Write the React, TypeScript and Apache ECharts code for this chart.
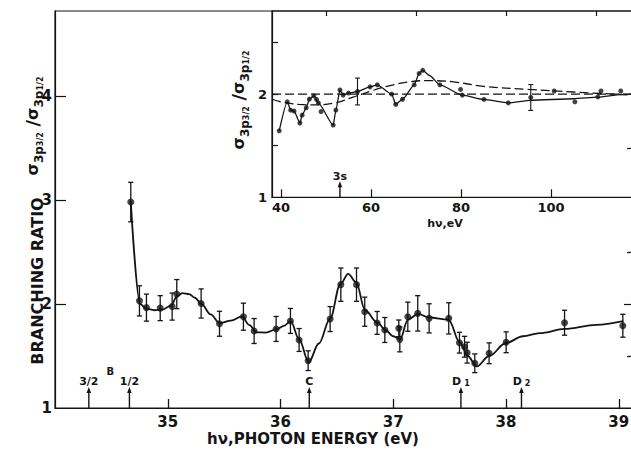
import React, { useEffect, useRef } from "react";
import * as echarts from "echarts";

const INK = "#141414";
const FONT = '"DejaVu Sans", "Liberation Sans", sans-serif';

// Near-threshold region: photon energy (eV), branching ratio and error
const photonEnergy = [34.672, 34.749, 34.811, 34.933, 35.039, 35.08, 35.296, 35.459, 35.671, 35.766, 35.961, 36.088, 36.165, 36.245, 36.44, 36.535, 36.674, 36.747, 36.857, 36.925, 37.049, 37.058, 37.129, 37.217, 37.318, 37.492, 37.587, 37.632, 37.655, 37.723, 37.85, 38.001, 38.519, 39.036];
const branchingRatio = [2.98, 2.03, 1.965, 1.96, 1.975, 2.095, 2.005, 1.81, 1.878, 1.74, 1.76, 1.837, 1.654, 1.455, 1.855, 2.186, 2.186, 1.926, 1.818, 1.75, 1.766, 1.66, 1.878, 1.91, 1.862, 1.862, 1.628, 1.589, 1.532, 1.43, 1.526, 1.632, 1.82, 1.791];
const ratioError = [0.19, 0.145, 0.13, 0.12, 0.13, 0.14, 0.14, 0.12, 0.13, 0.12, 0.12, 0.12, 0.11, 0.095, 0.12, 0.16, 0.16, 0.14, 0.11, 0.12, 0.08, 0.12, 0.14, 0.17, 0.14, 0.15, 0.1, 0.1, 0.1, 0.09, 0.1, 0.1, 0.12, 0.11];

// Hand-drawn guide curve through the near-threshold data
const guideEnergy = [34.672, 34.755, 34.81, 34.88, 34.95, 35.03, 35.08, 35.13, 35.19, 35.24, 35.3, 35.38, 35.46, 35.56, 35.66, 35.72, 35.79, 35.87, 35.96, 36.03, 36.09, 36.165, 36.25, 36.34, 36.44, 36.53, 36.6, 36.67, 36.75, 36.86, 36.93, 37.0, 37.06, 37.13, 37.22, 37.32, 37.49, 37.59, 37.66, 37.74, 37.85, 38.0, 38.15, 38.3, 38.52, 38.8, 39.04];
const guideRatio = [2.98, 2.0, 1.955, 1.94, 1.945, 1.985, 2.07, 2.105, 2.095, 2.06, 2.0, 1.9, 1.815, 1.84, 1.88, 1.8, 1.728, 1.725, 1.755, 1.79, 1.835, 1.66, 1.44, 1.62, 1.86, 2.19, 2.29, 2.21, 1.94, 1.82, 1.75, 1.69, 1.66, 1.85, 1.905, 1.87, 1.85, 1.63, 1.5, 1.4, 1.5, 1.625, 1.69, 1.72, 1.76, 1.8, 1.835];

// Thresholds marked on the energy axis
const edgeEnergy = [34.3, 34.66, 36.255, 37.6, 38.137];
const edgeLabel = ["3/2", "1/2", "C", "D{s|1}", "D{s|2}"];
const groupEnergy = [34.49];
const groupLabel = ["B"];
const groupLevel = [1.35];

const energyTicks = [35, 36, 37, 38, 39];
const ratioLabels = [1, 2, 3, 4];
const ratioMajorTicks = [2, 3, 4];
const ratioMinorTicks = [1.5, 2.5, 3.5];

// Wide-range panel: hν (eV) and ratio
const wideEnergy = [39.6, 41.4, 42.15, 42.9, 44.2, 44.7, 45.6, 46.3, 47.3, 47.9, 48.3, 48.9, 51.6, 52.2, 53.1, 53.8, 55.0, 57.0, 59.8, 61.4, 64.6, 65.5, 67.0, 69.6, 70.7, 71.5, 75.3, 79.9, 80.3, 85.1, 90.5, 95.5, 100.7, 105.3, 110.4, 111.1, 115.5];
const wideRatio = [1.644, 1.925, 1.844, 1.835, 1.72, 1.796, 1.867, 1.951, 1.983, 1.948, 1.915, 1.83, 1.7, 1.845, 2.04, 1.99, 2.01, 2.025, 2.07, 2.09, 2.0, 1.9, 1.95, 2.09, 2.2, 2.23, 2.09, 2.045, 1.99, 1.948, 1.915, 1.967, 2.03, 1.925, 1.973, 2.03, 2.03];
const wideGuideEnergy = [39.6, 41.4, 42.15, 42.9, 44.2, 44.7, 45.6, 46.3, 47.3, 48.3, 51.6, 52.2, 53.1, 53.8, 55.0, 57.0, 59.8, 61.4, 64.6, 65.5, 67.0, 69.6, 70.7, 71.5, 73.0, 75.3, 80.3, 85.1, 90.5, 95.5, 105.0, 110.4, 115.5, 118.4];
const wideGuideRatio = [1.644, 1.925, 1.844, 1.835, 1.72, 1.796, 1.867, 1.951, 1.983, 1.915, 1.7, 1.845, 2.04, 1.99, 2.01, 2.025, 2.07, 2.09, 2.0, 1.9, 1.95, 2.09, 2.2, 2.23, 2.18, 2.09, 1.99, 1.948, 1.915, 1.94, 1.955, 1.97, 1.995, 2.0];
const wideErrEnergy = [57.0, 95.5];
const wideErrRatio = [2.025, 1.967];
const wideErrSize = [0.13, 0.125];

// Theoretical curves (dashed)
const statisticalEnergy = [38, 118.4];
const statisticalRatio = [2, 2];
const theoryEnergy = [38, 40, 44, 48, 52, 56, 60, 64, 68, 72, 78, 85, 95, 105, 118.4];
const theoryRatio = [1.95, 1.925, 1.9, 1.895, 1.915, 1.97, 2.03, 2.08, 2.115, 2.13, 2.12, 2.075, 2.045, 2.02, 1.99];

const wideEdgeEnergy = [53.1];
const wideEdgeLabel = ["3s"];
const wideMajorTicks = [40, 60, 80, 100];
const wideMinorTicks = [50, 70, 90, 110];
const wideRatioLabels = [1, 2];
const wideRatioTicks = [1.5, 2, 2.5];

const pairs = (xs: number[], ys: number[]) => xs.map((x, i) => [x, ys[i]]);

const errorBarItem = (capHalf: number, width: number) => (_params: any, api: any) => {
  const x = api.value(0);
  const y = api.value(1);
  const e = api.value(2);
  const hi = api.coord([x, y + e]);
  const lo = api.coord([x, y - e]);
  const st = { stroke: INK, lineWidth: width };
  return {
    type: "group",
    children: [
      { type: "line", shape: { x1: hi[0], y1: hi[1], x2: lo[0], y2: lo[1] }, style: st },
      { type: "line", shape: { x1: hi[0] - capHalf, y1: hi[1], x2: hi[0] + capHalf, y2: hi[1] }, style: st },
      { type: "line", shape: { x1: lo[0] - capHalf, y1: lo[1], x2: lo[0] + capHalf, y2: lo[1] }, style: st },
    ],
  };
};

const edgeItem = (labels: string[], len: number, fontSize: number, gap: number) => (params: any, api: any) => {
  const p = api.coord([api.value(0), api.value(1)]);
  const x = p[0];
  const y = p[1];
  return {
    type: "group",
    children: [
      { type: "line", shape: { x1: x, y1: y, x2: x, y2: y - len + 5 }, style: { stroke: INK, lineWidth: 1.4 } },
      { type: "polygon", shape: { points: [[x - 2.3, y - len + 6], [x + 2.3, y - len + 6], [x, y - len]] }, style: { fill: INK } },
      {
        type: "text",
        x,
        y: y - len - gap,
        style: {
          text: labels[params.dataIndex],
          fill: INK,
          fontFamily: FONT,
          fontWeight: "bold",
          fontSize,
          align: "center",
          verticalAlign: "middle",
          rich: {
            s: { fontFamily: FONT, fontWeight: "bold", fontSize: fontSize - 3, fill: INK, padding: [5, 0, 0, 3] },
          },
        },
      },
    ],
  };
};

const textOnlyItem = (labels: string[], fontSize: number) => (params: any, api: any) => {
  const p = api.coord([api.value(0), api.value(1)]);
  return {
    type: "text",
    x: p[0],
    y: p[1],
    style: {
      text: labels[params.dataIndex],
      fill: INK,
      fontFamily: FONT,
      fontWeight: "bold",
      fontSize,
      align: "center",
      verticalAlign: "middle",
    },
  };
};

const sigmaRich = (big: number, mid: number, small: number) => ({
  s: { fontFamily: FONT, fontWeight: "bold", fontSize: big, lineHeight: big + 9, fill: INK },
  b: { fontFamily: FONT, fontWeight: "bold", fontSize: mid, lineHeight: mid, verticalAlign: "bottom", fill: INK },
  c: { fontFamily: FONT, fontWeight: "bold", fontSize: small, lineHeight: small, verticalAlign: "bottom", fill: INK },
  g: { fontFamily: FONT, fontWeight: "bold", fontSize: big + 2, fill: INK },
});
const sigmaText = "{s|σ}{b|3p}{c|3/2} {g|/}{s|σ}{b|3p}{c|1/2}";

const axisBase = {
  type: "value" as const,
  splitLine: { show: false },
  axisLine: { show: true, lineStyle: { color: INK, width: 1.2 } },
};

export default function App() {
  const ref = useRef<HTMLDivElement>(null);

  useEffect(() => {
    if (!ref.current) return;
    const chart = echarts.init(ref.current, undefined, { renderer: "svg" });

    const mainY = { min: 1, max: 4.817 };
    const wideX = { min: 38, max: 118.44 };
    const wideY = { min: 1, max: 2.805 };

    chart.setOption({
      animation: false,
      backgroundColor: "#ffffff",
      textStyle: { fontFamily: FONT },
      grid: [
        { left: 55, top: 11, width: 579, height: 397, show: true, borderColor: INK, borderWidth: 1.2, backgroundColor: "transparent", outerBoundsMode: "none" },
        { left: 272, top: 11, width: 362, height: 186.3, show: true, borderColor: INK, borderWidth: 1.2, backgroundColor: "transparent", outerBoundsMode: "none" },
      ],
      xAxis: [
        {
          ...axisBase,
          gridIndex: 0,
          min: 34,
          max: 39.135,
          axisTick: { inside: true, length: 9, customValues: energyTicks, lineStyle: { color: INK, width: 1.3 } },
          axisLabel: { customValues: energyTicks, color: INK, fontSize: 15, fontWeight: "bold", fontFamily: FONT, margin: 6 },
        },
        {
          ...axisBase,
          gridIndex: 1,
          ...wideX,
          axisTick: { inside: true, length: 8, customValues: wideMajorTicks, lineStyle: { color: INK, width: 1.2 } },
          axisLabel: { customValues: wideMajorTicks, color: INK, fontSize: 13, fontWeight: "bold", fontFamily: FONT, margin: 4 },
        },
        {
          ...axisBase,
          gridIndex: 1,
          ...wideX,
          axisLine: { show: false },
          axisTick: { inside: true, length: 5, customValues: wideMinorTicks, lineStyle: { color: INK, width: 1.2 } },
          axisLabel: { show: false },
        },
      ],
      yAxis: [
        {
          ...axisBase,
          gridIndex: 0,
          ...mainY,
          axisTick: { inside: true, length: 11, customValues: ratioMajorTicks, lineStyle: { color: INK, width: 1.2 } },
          axisLabel: { customValues: ratioLabels, color: INK, fontSize: 15, fontWeight: "bold", fontFamily: FONT, margin: 3 },
        },
        {
          ...axisBase,
          gridIndex: 0,
          ...mainY,
          axisLine: { show: false },
          axisTick: { inside: true, length: 7, customValues: ratioMinorTicks, lineStyle: { color: INK, width: 1.2 } },
          axisLabel: { show: false },
        },
        {
          ...axisBase,
          gridIndex: 0,
          position: "right",
          ...mainY,
          axisLine: { show: false },
          axisTick: { inside: true, length: 10, customValues: [2], lineStyle: { color: INK, width: 1.2 } },
          axisLabel: { show: false },
        },
        {
          ...axisBase,
          gridIndex: 0,
          position: "right",
          ...mainY,
          axisLine: { show: false },
          axisTick: { inside: true, length: 6, customValues: [1.5, 2.5], lineStyle: { color: INK, width: 1.2 } },
          axisLabel: { show: false },
        },
        {
          ...axisBase,
          gridIndex: 1,
          ...wideY,
          axisTick: { inside: true, length: 6, customValues: wideRatioTicks, lineStyle: { color: INK, width: 1.2 } },
          axisLabel: { customValues: wideRatioLabels, color: INK, fontSize: 13, fontWeight: "bold", fontFamily: FONT, margin: 5 },
        },
      ],
      series: [
        {
          type: "line",
          xAxisIndex: 0,
          yAxisIndex: 0,
          data: pairs(guideEnergy, guideRatio),
          smooth: 0.35,
          smoothMonotone: "x",
          showSymbol: false,
          silent: true,
          lineStyle: { color: INK, width: 1.8 },
        },
        {
          type: "custom",
          xAxisIndex: 0,
          yAxisIndex: 0,
          data: photonEnergy.map((x, i) => [x, branchingRatio[i], ratioError[i]]),
          encode: { x: 0, y: 1 },
          renderItem: errorBarItem(2.6, 1.3),
          silent: true,
        },
        {
          type: "scatter",
          xAxisIndex: 0,
          yAxisIndex: 0,
          data: pairs(photonEnergy, branchingRatio),
          symbol: "circle",
          symbolSize: 7,
          itemStyle: { color: INK },
          silent: true,
        },
        {
          type: "custom",
          xAxisIndex: 0,
          yAxisIndex: 0,
          data: edgeEnergy.map((x) => [x, 1]),
          encode: { x: 0, y: 1 },
          renderItem: edgeItem(edgeLabel, 21, 11, 6),
          clip: false,
          silent: true,
        },
        {
          type: "custom",
          xAxisIndex: 0,
          yAxisIndex: 0,
          data: groupEnergy.map((x, i) => [x, groupLevel[i]]),
          encode: { x: 0, y: 1 },
          renderItem: textOnlyItem(groupLabel, 10),
          silent: true,
        },
        {
          type: "line",
          xAxisIndex: 1,
          yAxisIndex: 4,
          data: pairs(statisticalEnergy, statisticalRatio),
          showSymbol: false,
          silent: true,
          lineStyle: { color: INK, width: 1.3, type: [9, 4] },
        },
        {
          type: "line",
          xAxisIndex: 1,
          yAxisIndex: 4,
          data: pairs(theoryEnergy, theoryRatio),
          smooth: 0.4,
          showSymbol: false,
          silent: true,
          lineStyle: { color: INK, width: 1.3, type: [9, 4] },
        },
        {
          type: "line",
          xAxisIndex: 1,
          yAxisIndex: 4,
          data: pairs(wideGuideEnergy, wideGuideRatio),
          smooth: 0.2,
          smoothMonotone: "x",
          showSymbol: false,
          silent: true,
          lineStyle: { color: INK, width: 1.3 },
        },
        {
          type: "scatter",
          xAxisIndex: 1,
          yAxisIndex: 4,
          data: pairs(wideEnergy, wideRatio),
          symbol: "circle",
          symbolSize: 5,
          itemStyle: { color: INK },
          silent: true,
        },
        {
          type: "custom",
          xAxisIndex: 1,
          yAxisIndex: 4,
          data: wideErrEnergy.map((x, i) => [x, wideErrRatio[i], wideErrSize[i]]),
          encode: { x: 0, y: 1 },
          renderItem: errorBarItem(2.5, 1.1),
          silent: true,
        },
        {
          type: "custom",
          xAxisIndex: 1,
          yAxisIndex: 4,
          data: wideEdgeEnergy.map((x) => [x, 1]),
          encode: { x: 0, y: 1 },
          renderItem: edgeItem(wideEdgeLabel, 16, 11, 5),
          clip: false,
          silent: true,
        },
      ],
      graphic: [
        {
          type: "text",
          x: 37,
          y: 281,
          rotation: Math.PI / 2,
          style: { text: "BRANCHING RATIO", fill: INK, fontFamily: FONT, fontWeight: "bold", fontSize: 16, align: "center", verticalAlign: "middle" },
        },
        {
          type: "text",
          x: 32,
          y: 126,
          rotation: Math.PI / 2,
          style: { text: sigmaText, rich: sigmaRich(16, 12, 8), fill: INK, fontFamily: FONT, fontWeight: "bold", fontSize: 16, align: "center", verticalAlign: "middle" },
        },
        {
          type: "text",
          x: 238,
          y: 100,
          rotation: Math.PI / 2,
          style: { text: sigmaText, rich: sigmaRich(16, 12, 8), fill: INK, fontFamily: FONT, fontWeight: "bold", fontSize: 16, align: "center", verticalAlign: "middle" },
        },
        {
          type: "text",
          x: 313,
          y: 439,
          style: { text: "hν,PHOTON ENERGY (eV)", fill: INK, fontFamily: FONT, fontWeight: "bold", fontSize: 15, align: "center", verticalAlign: "middle" },
        },
        {
          type: "text",
          x: 445,
          y: 223,
          style: { text: "hν,eV", fill: INK, fontFamily: FONT, fontWeight: "bold", fontSize: 11, align: "center", verticalAlign: "middle" },
        },
      ],
    } as any);

    return () => chart.dispose();
  }, []);

  return (
    <div
      ref={ref}
      style={{ position: "fixed", left: 0, top: 0, width: 631, height: 450, background: "#fff" }}
    />
  );
}
